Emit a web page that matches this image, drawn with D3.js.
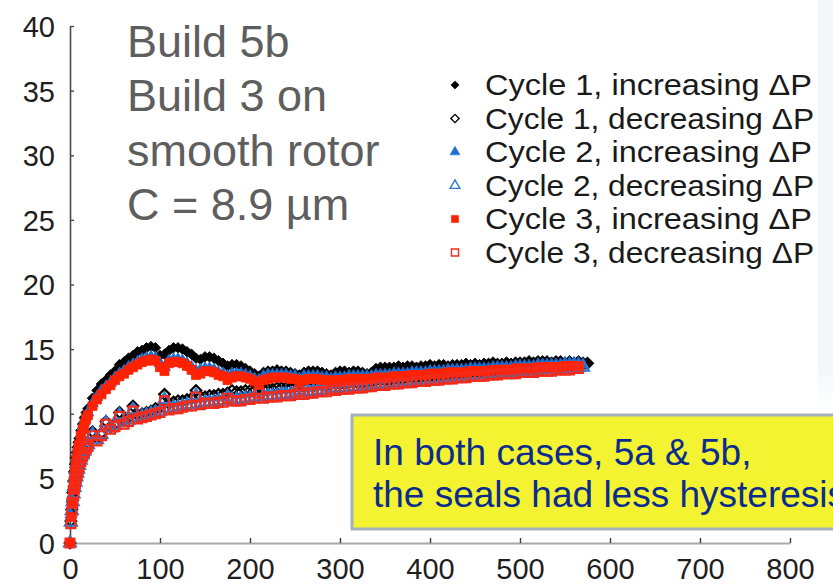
<!DOCTYPE html>
<html>
<head>
<meta charset="utf-8">
<script src="https://cdn.jsdelivr.net/npm/d3@7"></script>
<style>
  html, body { margin: 0; padding: 0; background: #fff; overflow: hidden; }
  svg { display: block; }
</style>
</head>
<body>
<svg id="chart" width="833" height="584"></svg>
<script>
// Pressure differential readings (shared abscissa for every run)
const xs = [
  0,1,2,3,4,5,6,7,8,9,10,12,14,16,18,
  20,25,30,35,40,45,50,55,60,65,70,75,80,85,90,95,
  100,105,110,115,120,125,130,135,140,145,150,155,160,165,170,175,180,185,190,195,
  200,205,210,215,220,225,230,235,240,245,250,255,260,265,270,275,280,285,290,295,
  300,305,310,315,320,325,330,335,340,345,350,355,360,365,370,375,380,385,390,395,
  400,405,410,415,420,425,430,435,440,445,450,455,460,465,470,475,480,485,490,495,
  500,505,510,515,520,525,530,535,540,545,550,555,560,565,570,575
];

const cycle1Up = [
  0,2.6,3.9,4.8,5.5,6.1,6.6,7.0,7.4,7.8,8.1,8.7,9.2,9.7,10.1,
  10.4,11.2,11.8,12.3,12.6,13.0,13.3,13.8,14.0,14.3,14.5,14.8,14.9,15.1,15.2,15.1,
  14.5,14.6,14.9,15.1,15.1,15.0,14.8,14.6,14.3,14.2,14.4,14.4,14.3,14.1,13.9,13.7,13.8,13.8,13.7,13.5,
  13.3,13.1,12.9,13.2,13.3,13.3,13.4,13.3,13.3,13.2,13.1,13.0,13.2,13.3,13.3,13.3,13.2,13.1,13.0,13.2,
  13.3,13.3,13.2,13.3,13.3,13.2,13.1,13.2,13.5,13.6,13.6,13.6,13.6,13.7,13.6,13.7,13.7,13.6,13.7,13.7,
  13.8,13.7,13.8,13.8,13.7,13.8,13.8,13.8,13.9,13.8,13.9,13.8,13.9,13.9,14.0,13.9,13.9,14.0,13.9,14.0,
  14.0,14.0,14.1,14.0,14.1,14.1,14.1,14.0,14.1,14.1,14.0,14.1,14.0,14.1,14.0,13.9
];
const cycle1Down = [
  0,1.7,2.6,3.3,3.9,4.4,4.8,5.2,5.5,5.8,6.1,6.5,6.9,7.2,7.5,
  7.7,8.6,8.1,8.5,9.4,9.0,9.2,10.1,9.5,9.7,10.6,9.9,10.0,10.1,10.2,10.4,
  10.5,11.5,10.8,10.9,11.0,11.0,11.1,11.2,11.8,11.3,11.3,11.4,11.4,11.5,11.5,11.6,11.8,11.7,11.7,11.8,
  11.8,11.8,12.1,11.9,11.9,11.9,12.0,12.0,12.0,12.0,12.1,12.3,12.1,12.1,12.1,12.2,12.2,12.2,12.4,12.3,
  12.3,12.3,12.4,12.4,12.4,12.4,12.5,12.5,12.6,12.6,12.6,12.6,12.7,12.7,12.7,12.8,12.8,12.8,12.8,12.9,
  12.9,12.9,12.9,13.0,13.0,13.0,13.0,13.1,13.1,13.1,13.2,13.2,13.2,13.2,13.3,13.3,13.3,13.3,13.4,13.4,
  13.4,13.4,13.5,13.5,13.5,13.5,13.6,13.6,13.6,13.6,13.7,13.7,13.7,13.8,13.8,13.9
];
const cycle2Up = [
  0,2.2,3.4,4.3,5.0,5.6,6.1,6.6,7.0,7.4,7.8,8.4,9.0,9.4,9.8,
  10.1,10.8,11.3,11.8,12.1,12.4,12.8,13.1,13.3,13.6,13.8,14.0,14.2,14.3,14.4,14.3,
  13.9,13.6,14.1,14.2,14.2,14.1,13.9,13.6,13.3,13.4,13.5,13.5,13.4,13.2,13.1,12.9,13.1,13.1,13.1,13.0,
  12.9,12.7,12.6,12.9,13.0,13.0,13.0,13.0,13.0,12.9,12.9,12.7,12.9,12.9,12.9,12.9,12.8,12.8,12.7,12.8,
  12.8,12.8,12.9,12.9,12.9,12.9,12.9,12.9,13.0,13.0,13.0,13.0,13.1,13.1,13.1,13.1,13.2,13.2,13.2,13.2,
  13.3,13.3,13.3,13.3,13.4,13.4,13.4,13.4,13.4,13.5,13.5,13.5,13.5,13.5,13.6,13.6,13.6,13.6,13.6,13.7,
  13.7,13.7,13.7,13.7,13.8,13.8,13.8,13.8,13.8,13.8,13.9,13.9,13.9,13.9,13.8
];
const cycle2Down = [
  0,1.6,2.5,3.2,3.8,4.3,4.7,5.1,5.4,5.7,6.0,6.4,6.8,7.1,7.4,
  7.6,8.4,8.0,8.4,9.3,8.9,9.1,9.9,9.3,9.5,10.3,9.7,9.8,9.9,10.0,10.1,
  10.2,11.1,10.4,10.5,10.5,10.6,10.7,10.7,11.4,10.8,10.9,10.9,10.9,11.0,11.0,11.3,11.1,11.1,11.1,11.2,
  11.2,11.3,11.7,11.3,11.4,11.4,11.4,11.5,11.5,11.5,11.6,11.8,11.6,11.7,11.7,11.8,11.8,11.8,12.0,11.9,
  12.0,12.0,12.0,12.1,12.1,12.1,12.2,12.2,12.3,12.3,12.3,12.4,12.4,12.4,12.5,12.5,12.5,12.6,12.6,12.6,
  12.7,12.7,12.7,12.8,12.8,12.8,12.9,12.9,12.9,13.0,13.0,13.0,13.0,13.1,13.1,13.1,13.2,13.2,13.2,13.2,
  13.3,13.3,13.3,13.3,13.4,13.4,13.4,13.4,13.5,13.5,13.5,13.5,13.6,13.6,13.6
];
const cycle3Up = [
  0,2.0,3.2,4.1,4.8,5.4,5.9,6.4,6.8,7.2,7.6,8.3,8.8,9.2,9.6,
  9.9,10.6,11.1,11.5,11.9,12.2,12.6,12.9,13.1,13.4,13.6,13.8,14.0,14.1,14.2,14.1,
  13.6,13.3,13.9,14.0,14.0,13.9,13.7,13.4,13.0,13.1,13.3,13.3,13.2,13.0,12.9,12.6,12.8,12.9,12.9,12.8,
  12.7,12.5,12.3,12.6,12.7,12.8,12.8,12.8,12.8,12.7,12.7,12.5,12.6,12.7,12.7,12.7,12.6,12.6,12.5,12.6,
  12.6,12.6,12.7,12.7,12.7,12.7,12.7,12.7,12.8,12.8,12.8,12.8,12.9,12.9,12.9,12.9,13.0,13.0,13.0,13.0,
  13.1,13.1,13.1,13.1,13.2,13.2,13.2,13.2,13.2,13.3,13.3,13.3,13.3,13.3,13.4,13.4,13.4,13.4,13.4,13.5,
  13.5,13.5,13.5,13.5,13.6,13.6,13.6,13.6,13.6,13.6,13.7,13.7,13.7,13.7
];
const cycle3Down = [
  0,1.5,2.4,3.1,3.7,4.2,4.6,5.0,5.3,5.6,5.9,6.3,6.7,7.0,7.3,
  7.5,8.3,7.9,8.3,9.2,8.8,9.0,9.8,9.2,9.4,10.2,9.6,9.7,9.8,9.9,10.0,
  10.1,11.0,10.3,10.4,10.4,10.5,10.6,10.6,11.3,10.7,10.8,10.8,10.8,10.9,10.9,11.2,11.0,11.0,11.0,11.1,
  11.1,11.2,11.6,11.2,11.3,11.3,11.3,11.4,11.4,11.4,11.5,11.7,11.5,11.6,11.6,11.7,11.7,11.7,11.9,11.8,
  11.9,11.9,11.9,12.0,12.0,12.0,12.1,12.1,12.2,12.2,12.2,12.3,12.3,12.3,12.4,12.4,12.4,12.5,12.5,12.5,
  12.6,12.6,12.6,12.7,12.7,12.7,12.8,12.8,12.8,12.9,12.9,12.9,12.9,13.0,13.0,13.0,13.1,13.1,13.1,13.1,
  13.2,13.2,13.2,13.2,13.3,13.3,13.3,13.3,13.4,13.4,13.4,13.4,13.5,13.5
];

const seriesNames = [
  "Cycle 1, increasing \u0394P",
  "Cycle 1, decreasing \u0394P",
  "Cycle 2, increasing \u0394P",
  "Cycle 2, decreasing \u0394P",
  "Cycle 3, increasing \u0394P",
  "Cycle 3, decreasing \u0394P"
];
const xTicks = [0, 100, 200, 300, 400, 500, 600, 700, 800];
const yTicks = [0, 5, 10, 15, 20, 25, 30, 35, 40];
const titleLines = ["Build 5b", "Build 3 on", "smooth rotor", "C = 8.9 \u00b5m"];
const noteLines = ["In both cases, 5a & 5b,", "the seals had less hysteresis"];

const FONT = "'Liberation Sans', Arial, Helvetica, sans-serif";
const svg = d3.select("#chart");

// Marker styles for each run
const styles = [
  { values: cycle1Up,   shape: "diamond",  color: "#000000", filled: true  },
  { values: cycle1Down, shape: "diamond",  color: "#000000", filled: false },
  { values: cycle2Up,   shape: "triangle", color: "#1c6fd1", filled: true  },
  { values: cycle2Down, shape: "triangle", color: "#2a7ad6", filled: false },
  { values: cycle3Up,   shape: "square",   color: "#ff2200", filled: true  },
  { values: cycle3Down, shape: "square",   color: "#f42a1a", filled: false }
];

const dataSymbol = {
  diamond: d3.symbol().type(d3.symbolSquare).size(56)(),
  triangle: d3.symbol().type(d3.symbolTriangle).size(60)(),
  square: d3.symbol().type(d3.symbolSquare).size(80)()
};
const legendSymbol = {
  diamond: d3.symbol().type(d3.symbolSquare).size(34)(),
  triangle: d3.symbol().type(d3.symbolTriangle).size(42)(),
  square: d3.symbol().type(d3.symbolSquare).size(50)()
};
const rotateFor = s => (s === "diamond" ? " rotate(45)" : "");

// Light panel strip on the right edge
const defs = svg.append("defs");
const grad = defs.append("linearGradient").attr("id", "stripFade")
  .attr("x1", 0).attr("y1", 0).attr("x2", 0).attr("y2", 1);
grad.append("stop").attr("offset", "0.9").attr("stop-color", "#f3f7fc");
grad.append("stop").attr("offset", "1").attr("stop-color", "#ffffff");
svg.append("rect").attr("x", 818).attr("y", 0).attr("width", 15).attr("height", 410)
  .attr("fill", "url(#stripFade)");

const x = d3.scaleLinear().domain([0, 800]).range([70, 790]);
const y = d3.scaleLinear().domain([0, 40]).range([543, 26]);

// Axes
const yAxis = svg.append("g").attr("transform", `translate(${x(0)},0)`)
  .call(d3.axisLeft(y).tickValues(yTicks).tickSize(-4).tickSizeOuter(0).tickPadding(15));
yAxis.select(".domain").attr("stroke", "#4a4a4a").attr("stroke-width", 1.6);
yAxis.selectAll(".tick line").attr("stroke", "#4a4a4a").attr("stroke-width", 1.4);
yAxis.selectAll(".tick text").attr("font-family", FONT).attr("font-size", 29)
  .attr("fill", "#1e1e1e").attr("dy", "0.36em");

const xAxis = svg.append("g").attr("transform", `translate(0,${y(0)})`)
  .call(d3.axisBottom(x).tickValues(xTicks).tickSize(-5).tickSizeOuter(0).tickPadding(15));
xAxis.select(".domain").attr("stroke", "#a8a8a8").attr("stroke-width", 2);
xAxis.selectAll(".tick line").attr("stroke", "#3a3a3a").attr("stroke-width", 1.4);
xAxis.selectAll(".tick text").attr("font-family", FONT).attr("font-size", 29)
  .attr("fill", "#1e1e1e");

// Data markers
const plot = svg.append("g");
styles.forEach(st => {
  const pts = st.values.map((v, i) => [xs[i], v]);
  plot.append("g").selectAll("path").data(pts).join("path")
    .attr("d", dataSymbol[st.shape])
    .attr("transform", d => `translate(${x(d[0])},${y(d[1])})${rotateFor(st.shape)}`)
    .attr("fill", st.filled ? st.color : "none")
    .attr("stroke", st.color)
    .attr("stroke-width", st.filled ? 0.8 : 2.2);
});

// Legend
const legend = svg.append("g");
seriesNames.forEach((name, i) => {
  const st = styles[i];
  const cy = 85 + i * 33.5;
  legend.append("path")
    .attr("d", legendSymbol[st.shape])
    .attr("transform", `translate(455,${cy})${rotateFor(st.shape)}`)
    .attr("fill", st.filled ? st.color : "#fff")
    .attr("stroke", st.color)
    .attr("stroke-width", st.filled ? 0.6 : 1.4);
  legend.append("text")
    .attr("x", 485).attr("y", cy + 10)
    .attr("font-family", FONT).attr("font-size", 30).attr("fill", "#1a1a1a")
    .attr("textLength", i % 2 === 0 ? 327 : 329)
    .attr("lengthAdjust", "spacingAndGlyphs")
    .text(name);
});

// Build description
svg.append("g").selectAll("text").data(titleLines).join("text")
  .attr("x", 127).attr("y", (d, i) => 57 + i * 54.3)
  .attr("font-family", FONT).attr("font-size", 45).attr("fill", "#5e5e5e")
  .text(d => d);

// Call-out box (runs off the right edge of the page)
svg.append("rect").attr("x", 352).attr("y", 415).attr("width", 500).attr("height", 114)
  .attr("fill", "#f3f332").attr("stroke", "#a2b2be").attr("stroke-width", 3);
svg.append("g").selectAll("text").data(noteLines).join("text")
  .attr("x", 373).attr("y", (d, i) => 465 + i * 42)
  .attr("font-family", FONT).attr("font-size", 37).attr("fill", "#0b2c8c")
  .text(d => d);
</script>
</body>
</html>
